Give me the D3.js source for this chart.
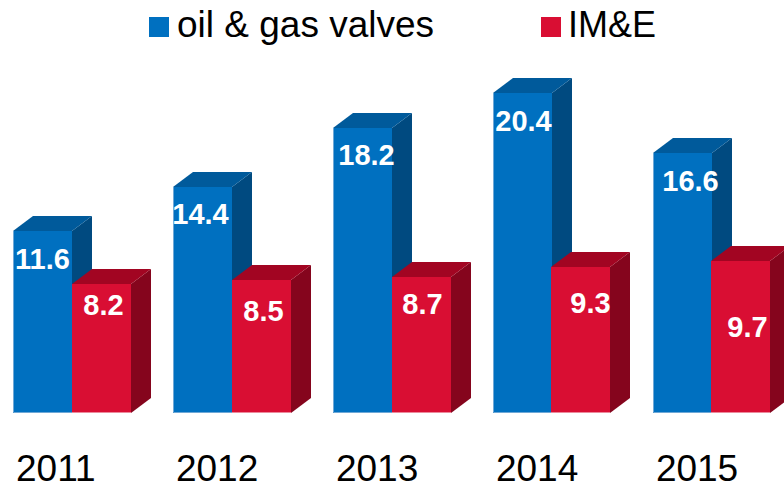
<!DOCTYPE html>
<html>
<head>
<meta charset="utf-8">
<script src="https://d3js.org/d3.v7.min.js"></script>
<style>
  html, body { margin: 0; padding: 0; background: #fff; overflow: hidden; }
  text { font-family: "Liberation Sans", Arial, sans-serif; }
</style>
</head>
<body>
<svg id="chart" width="784" height="483"></svg>
<script>
const years = ['2011', '2012', '2013', '2014', '2015'];
const seriesNames = ['oil & gas valves', 'IM&E'];
const valveValues = [11.6, 14.4, 18.2, 20.4, 16.6];
const imeValues = [8.2, 8.5, 8.7, 9.3, 9.7];

// colours per series: front, top, side, light edge
const colors = {
    'oil & gas valves': { front: '#0070c0', top: '#005a9b', side: '#004a80', edge: '#6fa8d6' },
    'IM&E': { front: '#d90e33', top: '#a20522', side: '#85051d', edge: '#eb8a9c' }
};

// the value labels were placed by hand in the original, so they sit off centre
const valveLabelShift = [[0, 28], [-2, 27], [4, 27], [1, 28], [8, 28]];
const imeLabelShift = [[2, 21], [2, 31], [1, 27], [10, 36], [7, 66]];

const depthX = 20, depthY = 15;
const baseY = 413;

let svg = d3.select('#chart');

let x = d3.scaleBand().domain(years).range([13, 770]).paddingInner(0.268);
let xSeries = d3.scaleBand().domain(seriesNames).range([0, x.bandwidth()]);
let y = d3.scaleLinear().domain([0, 20.4]).range([baseY, 93]).interpolate(d3.interpolateRound);

let rows = [];
years.forEach(function (year, i) {
    rows.push({ year: year, series: seriesNames[0], value: valveValues[i], shift: valveLabelShift[i] });
    rows.push({ year: year, series: seriesNames[1], value: imeValues[i], shift: imeLabelShift[i] });
});

let bars = svg.selectAll('g.bar').data(rows).enter()
    .append('g')
    .attr('class', 'bar')
    .attr('transform', d => 'translate(' + Math.round(x(d.year) + xSeries(d.series)) + ',0)');

let w = Math.round(xSeries.bandwidth());

// side face
bars.append('path')
    .attr('fill', d => colors[d.series].side)
    .attr('d', d => d3.line()([[w, y(d.value)], [w + depthX, y(d.value) - depthY], [w + depthX, baseY - depthY], [w, baseY]]) + 'Z');

// top face
bars.append('path')
    .attr('fill', d => colors[d.series].top)
    .attr('d', d => d3.line()([[0, y(d.value)], [depthX, y(d.value) - depthY], [w + depthX, y(d.value) - depthY], [w, y(d.value)]]) + 'Z');

// front face
bars.append('rect')
    .attr('x', 0)
    .attr('y', d => y(d.value))
    .attr('width', w)
    .attr('height', d => baseY - y(d.value))
    .attr('fill', d => colors[d.series].front);

// soft light edge: left and bottom on the blue bars, bottom only on the red ones
bars.append('path')
    .attr('fill', 'none')
    .attr('stroke', d => colors[d.series].edge)
    .attr('stroke-width', 1)
    .attr('d', function (d) {
        if (d.series == seriesNames[1]) {
            return d3.line()([[0, baseY - 0.5], [w, baseY - 0.5]]);
        }
        return d3.line()([[0.5, y(d.value)], [0.5, baseY - 0.5], [w, baseY - 0.5]]);
    });

// value labels
bars.append('text')
    .attr('x', d => w / 2 + d.shift[0])
    .attr('y', d => y(d.value) + d.shift[1])
    .attr('dy', '0.35em')
    .attr('text-anchor', 'middle')
    .attr('fill', '#fff')
    .attr('font-weight', 'bold')
    .attr('font-size', 29)
    .text(d => d.value.toFixed(1));

// year labels
svg.selectAll('text.year').data(years).enter()
    .append('text')
    .attr('class', 'year')
    .attr('x', d => x(d) + 3)
    .attr('y', 481)
    .attr('fill', '#000')
    .attr('font-size', 37)
    .text(d => d);

// legend
const legendX = [149, 541];
const legendFont = [37, 36];
let legend = svg.selectAll('g.legend').data(seriesNames).enter()
    .append('g')
    .attr('class', 'legend')
    .attr('transform', (d, i) => 'translate(' + legendX[i] + ',0)');

legend.append('rect')
    .attr('x', 0)
    .attr('y', 17)
    .attr('width', 20)
    .attr('height', 20)
    .attr('fill', d => colors[d].front);

legend.append('text')
    .attr('x', (d, i) => i == 0 ? 28 : 27)
    .attr('y', 37)
    .attr('fill', '#000')
    .attr('font-size', (d, i) => legendFont[i])
    .text(d => d);
</script>
</body>
</html>
